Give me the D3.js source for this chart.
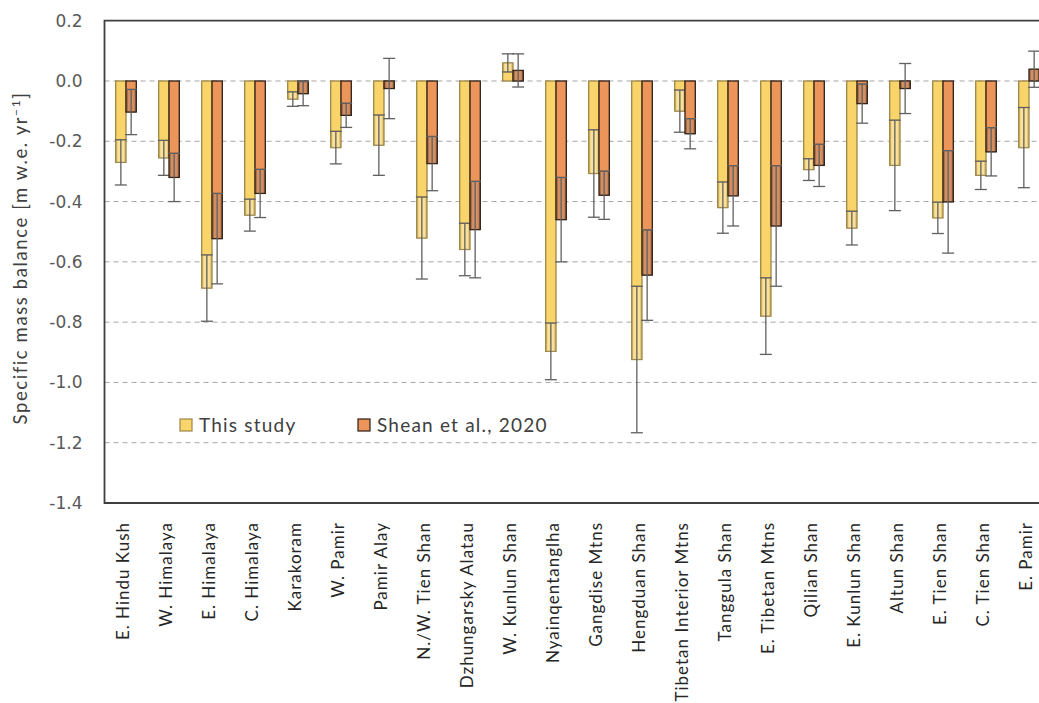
<!DOCTYPE html>
<html>
<head>
  <meta charset="utf-8">
  <title>Specific mass balance</title>
  <script src="https://cdn.jsdelivr.net/npm/d3@7/dist/d3.min.js"></script>
  <style>
    body { margin:0; background:white; }
    svg { display:block; }
    .cat text { font-family:Lato, "Open Sans", sans-serif; font-size:17px; letter-spacing:1px; fill:#262626; }
    .yax text { font-family:"DejaVu Sans", sans-serif; font-size:17px; fill:#595959; }
    .legend text { font-family:Lato, sans-serif; font-size:19px; letter-spacing:1.2px; fill:#404040; }
  </style>
</head>
<body>
<div id="chart"></div>
<script>
var regions = ["E. Hindu Kush", "W. Himalaya", "E. Himalaya", "C. Himalaya", "Karakoram",
  "W. Pamir", "Pamir Alay", "N./W. Tien Shan", "Dzhungarsky Alatau", "W. Kunlun Shan",
  "Nyainqentanglha", "Gangdise Mtns", "Hengduan Shan", "Tibetan Interior Mtns", "Tanggula Shan",
  "E. Tibetan Mtns", "Qilian Shan", "E. Kunlun Shan", "Altun Shan", "E. Tien Shan",
  "C. Tien Shan", "E. Pamir"];

var thisStudy    = [-0.27, -0.255, -0.687, -0.445, -0.06, -0.221, -0.213, -0.521, -0.559, 0.06,
  -0.897, -0.307, -0.924, -0.10, -0.42, -0.78, -0.294, -0.488, -0.28, -0.454, -0.313, -0.221];
var thisStudyErr = [0.075, 0.058, 0.11, 0.053, 0.024, 0.054, 0.10, 0.136, 0.087, 0.03,
  0.094, 0.145, 0.243, 0.07, 0.085, 0.127, 0.036, 0.056, 0.15, 0.052, 0.047, 0.133];
var shean        = [-0.103, -0.32, -0.523, -0.373, -0.042, -0.114, -0.025, -0.274, -0.493, 0.035,
  -0.46, -0.379, -0.644, -0.175, -0.381, -0.481, -0.28, -0.075, -0.025, -0.401, -0.235, 0.039];
var sheanErr     = [0.075, 0.08, 0.15, 0.08, 0.04, 0.04, 0.10, 0.09, 0.16, 0.055,
  0.14, 0.08, 0.15, 0.05, 0.10, 0.20, 0.07, 0.065, 0.083, 0.17, 0.08, 0.06];

var yTicks = [0.2, 0.0, -0.2, -0.4, -0.6, -0.8, -1.0, -1.2, -1.4];
var gridTicks = [0.0, -0.2, -0.4, -0.6, -0.8, -1.0, -1.2];
var seriesNames = ["This study", "Shean et al., 2020"];

(function() {
var W = 1039, H = 703;
var pLeft = 104.5, pRight = 1050.5, pTop = 20.7, pBottom = 503;

var svg = d3.select('#chart').append('svg').attr('width', W).attr('height', H);

var y = d3.scaleLinear().domain([-1.4, 0.2]).range([pBottom, pTop]);
var x = d3.scaleBand().domain(regions).range([pLeft, pRight]).padding(0);
var x1 = d3.scaleBand().domain(["a", "b"])
  .range([x.bandwidth() / 2 - 10.3, x.bandwidth() / 2 + 10.3]).padding(0);

// dashed gridlines
svg.append('g').selectAll('line').data(gridTicks).enter().append('line')
  .attr('x1', pLeft).attr('x2', W)
  .attr('y1', function(d) { return y(d); }).attr('y2', function(d) { return y(d); })
  .attr('stroke', '#a6a6a6').attr('stroke-width', 1).attr('stroke-dasharray', '5,4');

var series = [
  {key: "a", vals: thisStudy, errs: thisStudyErr, fill: "#f8d46a", stroke: "#9c8648", shade: "#ffffff", shadeOp: 0.3},
  {key: "b", vals: shean, errs: sheanErr, fill: "#eb955b", stroke: "#2e1f17", shade: "#9a8070", shadeOp: 0.3}
];

series.forEach(function(s) {
  var g = svg.append('g');
  var rows = regions.map(function(r, i) { return {r: r, v: s.vals[i], e: s.errs[i]}; });
  var bw = x1.bandwidth();

  g.selectAll('rect.bar').data(rows).enter().append('rect')
    .attr('class', 'bar')
    .attr('x', function(d) { return x(d.r) + x1(s.key); })
    .attr('width', bw)
    .attr('y', function(d) { return y(Math.max(0, d.v)); })
    .attr('height', function(d) { return Math.abs(y(d.v) - y(0)); })
    .attr('fill', s.fill).attr('stroke', s.stroke).attr('stroke-width', 1.3);

  // faded part of the bar between the inner error cap and the bar end
  g.selectAll('rect.fade').data(rows).enter().append('rect')
    .attr('x', function(d) { return x(d.r) + x1(s.key) + 1; })
    .attr('width', bw - 2)
    .attr('y', function(d) {
      var inner = d.v < 0 ? Math.min(0, d.v + d.e) : Math.max(0, d.v - d.e);
      return Math.min(y(inner), y(d.v));
    })
    .attr('height', function(d) {
      var inner = d.v < 0 ? Math.min(0, d.v + d.e) : Math.max(0, d.v - d.e);
      return Math.abs(y(inner) - y(d.v));
    })
    .attr('fill', s.shade).attr('fill-opacity', s.shadeOp)
    .attr('stroke', s.stroke).attr('stroke-opacity', 0.5).attr('stroke-width', 1);

  // error bars
  var eb = g.selectAll('g.err').data(rows).enter().append('g')
    .attr('transform', function(d) { return 'translate(' + (x(d.r) + x1(s.key) + bw / 2) + ',0)'; });
  eb.append('line')
    .attr('x1', 0).attr('x2', 0)
    .attr('y1', function(d) { return y(d.v + d.e); })
    .attr('y2', function(d) { return y(d.v - d.e); })
    .attr('stroke', '#606060').attr('stroke-width', 1.3);
  [1, -1].forEach(function(sg) {
    eb.append('line')
      .attr('x1', -6).attr('x2', 6)
      .attr('y1', function(d) { return y(d.v + sg * d.e); })
      .attr('y2', function(d) { return y(d.v + sg * d.e); })
      .attr('stroke', '#606060').attr('stroke-width', 1.3);
  });
});

// plot frame
svg.append('path')
  .attr('d', 'M' + W + ',' + pTop + 'H' + pLeft + 'V' + pBottom + 'H' + W)
  .attr('fill', 'none').attr('stroke', '#3f3f3f').attr('stroke-width', 1.8);

// y axis labels
var yAxis = svg.append('g').attr('class', 'yax')
  .attr('transform', 'translate(' + pLeft + ',0)')
  .call(d3.axisLeft(y).tickValues(yTicks).tickSize(0).tickPadding(22)
    .tickFormat(function(d) { return d.toFixed(1); }));
yAxis.select('.domain').remove();
yAxis.selectAll('text').attr('font-family', null).attr('font-size', null).attr('fill', null);

// category labels
var xAxis = svg.append('g').attr('class', 'cat')
  .attr('transform', 'translate(0,' + pBottom + ')')
  .call(d3.axisBottom(x).tickSize(0));
xAxis.select('.domain').remove();
xAxis.selectAll('text')
  .attr('font-family', null).attr('font-size', null).attr('fill', null)
  .attr('transform', 'rotate(-90)')
  .attr('x', -19).attr('y', -3).attr('dy', '0.35em')
  .style('text-anchor', 'end');

// y title
var title = svg.append('text')
  .attr('transform', 'translate(27,258) rotate(-90)')
  .attr('text-anchor', 'middle')
  .attr('font-family', 'Lato, sans-serif').attr('font-size', 18.5)
  .attr('letter-spacing', 1.6).attr('fill', '#404040');
title.append('tspan').text('Specific mass balance [m w.e. yr');
title.append('tspan').attr('baseline-shift', 'super').attr('font-size', 12).text('\u22121');
title.append('tspan').text(']');

// legend
var legend = svg.append('g').attr('class', 'legend');
var legendX = [180, 358];
seriesNames.forEach(function(name, i) {
  var lg = legend.append('g').attr('transform', 'translate(' + legendX[i] + ',419)');
  lg.append('rect').attr('width', 12).attr('height', 12)
    .attr('fill', series[i].fill).attr('stroke', series[i].stroke).attr('stroke-width', 1.2);
  lg.append('text').attr('x', 19).attr('y', 12.5).text(name);
});
})();
</script>
</body>
</html>
